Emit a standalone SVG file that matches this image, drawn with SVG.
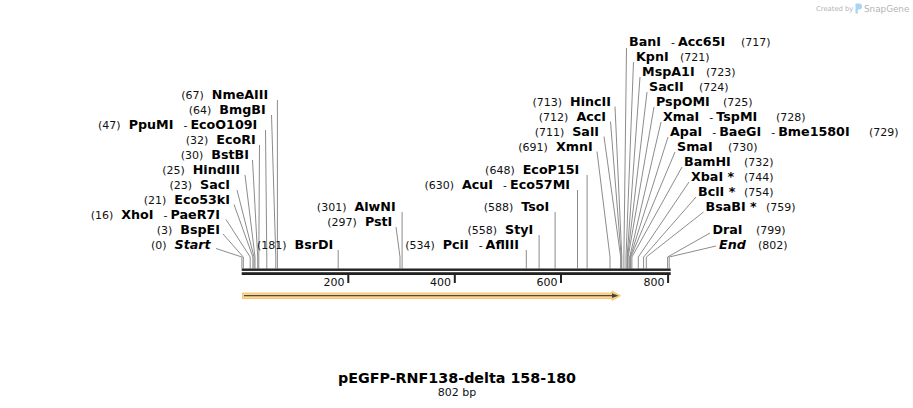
<svg xmlns="http://www.w3.org/2000/svg" width="913" height="408" viewBox="0 0 913 408">
<style>
.b{font-family:"DejaVu Sans",sans-serif;font-weight:bold;font-size:12.7px;fill:#000}
.bi{font-family:"DejaVu Sans",sans-serif;font-weight:bold;font-style:italic;font-size:12.7px;fill:#000}
.n{font-family:"DejaVu Sans",sans-serif;font-size:11px;fill:#111}
.ld{stroke:#8c8c8c;stroke-width:1;fill:none}
.rl{fill:#222}
.sg{font-family:"DejaVu Sans",sans-serif;fill:#b4b4b4}
</style>
<rect width="913" height="408" fill="#fff"/>
<g id="logo">
<text class="sg" x="816" y="10.5" font-size="6.8">Created by</text>
<path d="M855.5 3.5 h3.5 a3 3 0 0 1 0 6 h-1.2 v4 h-2.3 z" fill="#a9d3f2"/>
<text class="sg" x="864" y="11.5" font-size="8.8" fill="#a8a8a8">SnapGene</text>
</g>
<g id="connectors">
<path class="ld" d="M277.4,100 V268.5"/>
<path class="ld" d="M271.5,115 L275.8,257 V268.5"/>
<path class="ld" d="M265.5,130 L266.8,257 V268.5"/>
<path class="ld" d="M259.5,145 L258.8,257 V268.5"/>
<path class="ld" d="M252.5,160 L257.7,257 V268.5"/>
<path class="ld" d="M245,175 L255,257 V268.5"/>
<path class="ld" d="M237,190 L254,257 V268.5"/>
<path class="ld" d="M234,204.5 L252.9,257 V268.5"/>
<path class="ld" d="M226,219.5 L250.2,257 V268.5"/>
<path class="ld" d="M223,234 L243.3,257 V268.5"/>
<path class="ld" d="M216,248.5 L241.9,257 V268.5"/>
<path class="ld" d="M338.2,250 V268.5"/>
<path class="ld" d="M402.1,212 V268.5"/>
<path class="ld" d="M396,227 L400,257 V268.5"/>
<path class="ld" d="M526.3,250 V268.5"/>
<path class="ld" d="M539.1,235 V268.5"/>
<path class="ld" d="M555.1,212 V268.5"/>
<path class="ld" d="M577.5,190 V268.5"/>
<path class="ld" d="M587.1,175 V268.5"/>
<path class="ld" d="M597,151.5 L610,257 V268.5"/>
<path class="ld" d="M604,136.5 L620.7,257 V268.5"/>
<path class="ld" d="M610.5,121.5 L621.2,257 V268.5"/>
<path class="ld" d="M615,106.5 L621.8,257 V268.5"/>
<path class="ld" d="M626.5,48 L623.9,257 V268.5"/>
<path class="ld" d="M633.5,62 L626,257 V268.5"/>
<path class="ld" d="M640,77 L627.1,257 V268.5"/>
<path class="ld" d="M647,92 L627.6,257 V268.5"/>
<path class="ld" d="M654,107 L628.1,257 V268.5"/>
<path class="ld" d="M661,122 L629.7,257 V268.5"/>
<path class="ld" d="M668,137 L630.3,257 V268.5"/>
<path class="ld" d="M675,152 L630.8,257 V268.5"/>
<path class="ld" d="M682,167 L631.9,257 V268.5"/>
<path class="ld" d="M689,182 L638.3,257 V268.5"/>
<path class="ld" d="M696,197 L643.6,257 V268.5"/>
<path class="ld" d="M703.5,212 L646.3,257 V268.5"/>
<path class="ld" d="M710,233 L667.6,257 V268.5"/>
<path class="ld" d="M716,246 L669.2,257 V268.5"/>
</g>
<g id="ruler">
<rect class="rl" x="241.7" y="268.5" width="429" height="2.4"/>
<rect class="rl" x="241.7" y="272.2" width="429" height="2.8"/>
<rect class="rl" x="347.3" y="275" width="2" height="8"/>
<rect class="rl" x="453.8" y="275" width="2" height="8"/>
<rect class="rl" x="560" y="275" width="2" height="8"/>
<rect class="rl" x="667.1" y="275" width="2" height="8"/>
<text class="n" x="344.5" y="286" text-anchor="end">200</text>
<text class="n" x="451" y="286" text-anchor="end">400</text>
<text class="n" x="557.5" y="286" text-anchor="end">600</text>
<text class="n" x="664.5" y="286" text-anchor="end">800</text>
</g>
<g id="feature">
<path d="M242.5,293 H612 V291 L620.5,295.7 L612,300.4 V298.5 H242.5 Z" fill="#fdd58c" stroke="#f6bd5c" stroke-width="0.8"/>
<path d="M244,295.7 H613" stroke="#4a4a4a" stroke-width="1.3"/>
<path d="M612,293.3 L618.5,295.7 L612,298.1 Z" fill="#444"/>
</g>
<g id="site-NmeAIII"><text x="268.3" y="99" text-anchor="end"><tspan class="n">(67)</tspan><tspan class="b" dx="8">NmeAIII</tspan></text></g>
<g id="site-BmgBI"><text x="265.7" y="114" text-anchor="end"><tspan class="n">(64)</tspan><tspan class="b" dx="8">BmgBI</tspan></text></g>
<g id="site-PpuMI"><text x="257.3" y="129" text-anchor="end"><tspan class="n">(47)</tspan><tspan class="b" dx="8">PpuMI</tspan><tspan class="n" dx="10">-</tspan><tspan class="b" dx="3">EcoO109I</tspan></text></g>
<g id="site-EcoRI"><text x="255.7" y="144" text-anchor="end"><tspan class="n">(32)</tspan><tspan class="b" dx="8">EcoRI</tspan></text></g>
<g id="site-BstBI"><text x="249" y="159" text-anchor="end"><tspan class="n">(30)</tspan><tspan class="b" dx="8">BstBI</tspan></text></g>
<g id="site-HindIII"><text x="240" y="174" text-anchor="end"><tspan class="n">(25)</tspan><tspan class="b" dx="8">HindIII</tspan></text></g>
<g id="site-SacI"><text x="230" y="189" text-anchor="end"><tspan class="n">(23)</tspan><tspan class="b" dx="8">SacI</tspan></text></g>
<g id="site-Eco53kI"><text x="230" y="204" text-anchor="end"><tspan class="n">(21)</tspan><tspan class="b" dx="8">Eco53kI</tspan></text></g>
<g id="site-XhoI"><text x="220" y="219" text-anchor="end"><tspan class="n">(16)</tspan><tspan class="b" dx="8">XhoI</tspan><tspan class="n" dx="10">-</tspan><tspan class="b" dx="3">PaeR7I</tspan></text></g>
<g id="site-BspEI"><text x="220" y="234" text-anchor="end"><tspan class="n">(3)</tspan><tspan class="b" dx="8">BspEI</tspan></text></g>
<g id="site-Start"><text x="210.7" y="249" text-anchor="end"><tspan class="n">(0)</tspan><tspan class="bi" dx="8">Start</tspan></text></g>
<g id="site-BsrDI"><text x="333.3" y="249" text-anchor="end"><tspan class="n">(181)</tspan><tspan class="b" dx="8">BsrDI</tspan></text></g>
<g id="site-AlwNI"><text x="395.7" y="211" text-anchor="end"><tspan class="n">(301)</tspan><tspan class="b" dx="8">AlwNI</tspan></text></g>
<g id="site-PstI"><text x="392.3" y="226" text-anchor="end"><tspan class="n">(297)</tspan><tspan class="b" dx="8">PstI</tspan></text></g>
<g id="site-PciI"><text x="519" y="249" text-anchor="end"><tspan class="n">(534)</tspan><tspan class="b" dx="8">PciI</tspan><tspan class="n" dx="10">-</tspan><tspan class="b" dx="3">AflIII</tspan></text></g>
<g id="site-StyI"><text x="533.3" y="234" text-anchor="end"><tspan class="n">(558)</tspan><tspan class="b" dx="8">StyI</tspan></text></g>
<g id="site-TsoI"><text x="549.3" y="211" text-anchor="end"><tspan class="n">(588)</tspan><tspan class="b" dx="8">TsoI</tspan></text></g>
<g id="site-AcuI"><text x="570" y="189" text-anchor="end"><tspan class="n">(630)</tspan><tspan class="b" dx="8">AcuI</tspan><tspan class="n" dx="10">-</tspan><tspan class="b" dx="3">Eco57MI</tspan></text></g>
<g id="site-EcoP15I"><text x="579.3" y="174" text-anchor="end"><tspan class="n">(648)</tspan><tspan class="b" dx="8">EcoP15I</tspan></text></g>
<g id="site-XmnI"><text x="592.7" y="151" text-anchor="end"><tspan class="n">(691)</tspan><tspan class="b" dx="8">XmnI</tspan></text></g>
<g id="site-SalI"><text x="599" y="136" text-anchor="end"><tspan class="n">(711)</tspan><tspan class="b" dx="8">SalI</tspan></text></g>
<g id="site-AccI"><text x="606" y="121" text-anchor="end"><tspan class="n">(712)</tspan><tspan class="b" dx="8">AccI</tspan></text></g>
<g id="site-HincII"><text x="611" y="106" text-anchor="end"><tspan class="n">(713)</tspan><tspan class="b" dx="8">HincII</tspan></text></g>
<g id="site-BanI"><text x="629" y="46"><tspan class="b">BanI</tspan><tspan class="n" dx="10">-</tspan><tspan class="b" dx="3">Acc65I</tspan><tspan class="n" x="741">(717)</tspan></text></g>
<g id="site-KpnI"><text x="636" y="61"><tspan class="b">KpnI</tspan><tspan class="n" x="680">(721)</tspan></text></g>
<g id="site-MspA1I"><text x="642" y="76"><tspan class="b">MspA1I</tspan><tspan class="n" x="706">(723)</tspan></text></g>
<g id="site-SacII"><text x="649" y="91"><tspan class="b">SacII</tspan><tspan class="n" x="699">(724)</tspan></text></g>
<g id="site-PspOMI"><text x="656" y="106"><tspan class="b">PspOMI</tspan><tspan class="n" x="723">(725)</tspan></text></g>
<g id="site-XmaI"><text x="663" y="121"><tspan class="b">XmaI</tspan><tspan class="n" dx="10">-</tspan><tspan class="b" dx="3">TspMI</tspan><tspan class="n" x="776">(728)</tspan></text></g>
<g id="site-ApaI"><text x="670" y="136"><tspan class="b">ApaI</tspan><tspan class="n" dx="10">-</tspan><tspan class="b" dx="3">BaeGI</tspan><tspan class="n" dx="10">-</tspan><tspan class="b" dx="3">Bme1580I</tspan><tspan class="n" x="869">(729)</tspan></text></g>
<g id="site-SmaI"><text x="677" y="151"><tspan class="b">SmaI</tspan><tspan class="n" x="728">(730)</tspan></text></g>
<g id="site-BamHI"><text x="684" y="166"><tspan class="b">BamHI</tspan><tspan class="n" x="744">(732)</tspan></text></g>
<g id="site-XbaI"><text x="691" y="181"><tspan class="b">XbaI *</tspan><tspan class="n" x="744">(744)</tspan></text></g>
<g id="site-BclI"><text x="698" y="196"><tspan class="b">BclI *</tspan><tspan class="n" x="744">(754)</tspan></text></g>
<g id="site-BsaBI"><text x="705.5" y="211"><tspan class="b">BsaBI *</tspan><tspan class="n" x="766">(759)</tspan></text></g>
<g id="site-DraI"><text x="712.5" y="234"><tspan class="b">DraI</tspan><tspan class="n" x="756">(799)</tspan></text></g>
<g id="site-End"><text x="719" y="249"><tspan class="bi">End</tspan><tspan class="n" x="758">(802)</tspan></text></g>
<g id="title">
<text x="457" y="383" text-anchor="middle" font-family="DejaVu Sans, sans-serif" font-weight="bold" font-size="14.3" fill="#000">pEGFP-RNF138-delta 158-180</text>
<text x="457" y="396" text-anchor="middle" class="n">802 bp</text>
</g>
</svg>
